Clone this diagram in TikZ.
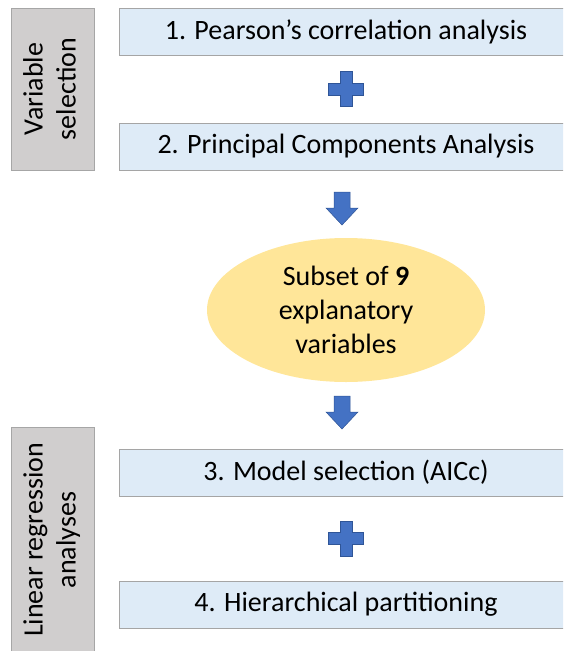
\documentclass[tikz,border=0pt]{standalone}
\usepackage{fontspec}
\setmainfont{Carlito}
\usetikzlibrary{shapes.geometric,calc}
\definecolor{stepfill}{HTML}{DEEBF7}
\definecolor{stepline}{HTML}{A5A5A5}
\definecolor{groupfill}{HTML}{D0CECE}
\definecolor{groupline}{HTML}{A6A6A6}
\definecolor{symfill}{HTML}{4472C4}
\definecolor{symline}{HTML}{2F5597}
\definecolor{subsetfill}{HTML}{FFE699}
\tikzset{
  stepbox/.style={draw=stepline, fill=stepfill, line width=0.8pt,
    minimum width=454pt, minimum height=47pt, inner sep=0pt,
    font=\fontsize{28}{33}\selectfont},
  groupbox/.style={draw=groupline, fill=groupfill, line width=0.8pt,
    inner sep=0pt, font=\fontsize{28}{33}\selectfont},
  symbol/.style={fill=symfill, draw=symline, line width=0.5pt},
}
% block plus sign centred on a coordinate
\newcommand{\plussign}[1]{%
  \path[symbol, shift={(#1)}]
    (-6,-17.5) -- (6,-17.5) -- (6,-6) -- (17.5,-6) -- (17.5,6) -- (6,6)
    -- (6,17.5) -- (-6,17.5) -- (-6,6) -- (-17.5,6) -- (-17.5,-6) -- (-6,-6) -- cycle;}
% block down-arrow, its top edge centred on a coordinate
\newcommand{\downblock}[1]{%
  \path[symbol, shift={(#1)}]
    (-8,0) -- (8,0) -- (8,16) -- (16,16) -- (0,33) -- (-16,16) -- (-8,16) -- cycle;}
\begin{document}
\begin{tikzpicture}[x=1pt,y=-1pt]
  \useasboundingbox (0,0) rectangle (563,651);
  \clip (0,0) rectangle (563,651);

  % group labels
  \node[groupbox, minimum width=83pt, minimum height=162pt] (varsel) at (52.5,89)
    {\rotatebox{90}{\begin{tabular}{@{}c@{}}Variable\\ selection\end{tabular}}};
  \node[groupbox, minimum width=83pt, minimum height=226pt] (linreg) at (52.5,540)
    {\rotatebox{90}{\begin{tabular}{@{}c@{}}Linear regression\\ analyses\end{tabular}}};

  % analysis steps
  \node[stepbox] (pearson) at (346,31.5) {1. Pearson’s correlation analysis};
  \node[stepbox] (pca)     at (346,146.5) {2. Principal Components Analysis};
  \node[stepbox] (aicc)    at (346,472.5) {3. Model selection (AICc)};
  \node[stepbox] (hp)      at (346,604.5) {4. Hierarchical partitioning};

  % retained variables
  \node[ellipse, fill=subsetfill, minimum width=278pt, minimum height=144pt,
        inner sep=0pt, align=center, font=\fontsize{28}{34}\selectfont]
    (subset) at (346,310) {Subset of \textbf{9}\\explanatory\\variables};

  % joining symbols
  \coordinate (plusA) at ($(pearson.south)!0.5!(pca.north)$);
  \coordinate (plusB) at ($(aicc.south)!0.5!(hp.north)$);
  \coordinate (arrA) at (342,192);
  \coordinate (arrB) at (342,396);
  \plussign{plusA}
  \plussign{plusB}
  \downblock{arrA}
  \downblock{arrB}
\end{tikzpicture}
\end{document}
